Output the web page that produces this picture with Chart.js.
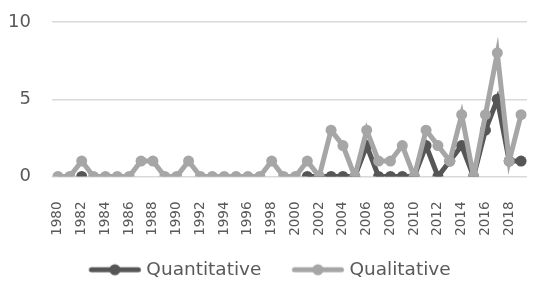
<!DOCTYPE html>
<html>
<head>
<meta charset="utf-8">
<script src="https://cdn.jsdelivr.net/npm/chart.js@4"></script>
<style>
html,body{margin:0;padding:0;background:#fff;}
#wrap{width:534px;height:283px;}
</style>
</head>
<body>
<div id="wrap"><canvas id="c" width="534" height="283"></canvas></div>
<script>
const years = [];
for (let y = 1980; y <= 2019; y++) years.push(String(y));
const quantitative = [null,null,0,null,null,null,null,null,null,null,
                      null,null,null,null,null,null,null,null,null,null,
                      null,0,0,0,0,0,2,0,0,0,
                      0,2,0,1,2,0,3,5,1,1];
const qualitative  = [0,0,1,0,0,0,0,1,1,0, 0,1,0,0,0,0,0,0,1,0, 0,1,0,3,2,0,3,1,1,2, 0,3,2,1,4,0,4,8,1,4];
const yTicks = [0,5,10];

const DARK = '#565656', LIGHT = '#a6a6a6', TXT = '#595959', FONT = "'DejaVu Sans', sans-serif";

// legend icon: visible part 53px wide, starting 20px into a 68.75px box
const BOXW = 68.75, ICON_OFF = 20, ICON_W = 53;
function legendIcon(color){
  const center = BOXW / 2;
  const half = (ICON_OFF + ICON_W) - center;
  const W = Math.ceil(half * 2);
  const cv = document.createElement('canvas');
  cv.width = W; cv.height = 14;
  const g = cv.getContext('2d');
  const x0 = W / 2 - center + ICON_OFF;
  g.strokeStyle = color; g.lineWidth = 5; g.lineCap = 'round';
  g.beginPath(); g.moveTo(x0 + 3, 7); g.lineTo(x0 + ICON_W - 3, 7); g.stroke();
  g.fillStyle = color; g.beginPath(); g.arc(x0 + ICON_W / 2, 7, 5.5, 0, Math.PI * 2); g.fill();
  return cv;
}
const icons = [legendIcon(DARK), legendIcon(LIGHT)];

const shiftLegend = {
  id: 'shiftLegend',
  afterLayout(chart){
    const l = chart.legend;
    if (l){ l.left += -8; l.right += -8; l.top += 6; l.bottom += 6; }
  }
};

new Chart(document.getElementById('c'), {
  type: 'line',
  data: {
    labels: years,
    datasets: [
      {label:'Quantitative', data: quantitative, borderColor: DARK, backgroundColor: DARK,
       borderWidth: 5, pointRadius: 5.5, pointBorderWidth: 0, pointHoverRadius: 5.5,
       order: 1, tension: 0, spanGaps: false},
      {label:'Qualitative', data: qualitative, borderColor: LIGHT, backgroundColor: LIGHT,
       borderWidth: 5, pointRadius: 5.5, pointBorderWidth: 0, pointHoverRadius: 5.5,
       order: 0, tension: 0}
    ]
  },
  plugins: [shiftLegend],
  options: {
    responsive: false,
    animation: false,
    events: [],
    layout: {padding: {left: 8, right: 7, top: 22, bottom: 0}},
    plugins: {
      tooltip: {enabled: false},
      legend: {
        position: 'bottom',
        labels: {
          usePointStyle: true,
          pointStyleWidth: BOXW,
          padding: 10,
          color: TXT,
          font: {family: FONT, size: 18.5},
          sort: (a, b) => a.datasetIndex - b.datasetIndex,
          generateLabels: (chart) => {
            const items = Chart.defaults.plugins.legend.labels.generateLabels(chart);
            items.forEach((it) => { it.pointStyle = icons[it.datasetIndex]; });
            return items;
          }
        }
      }
    },
    scales: {
      x: {
        offset: true,
        grid: {display: false},
        border: {display: false},
        afterFit: (s) => { s.paddingLeft = 0; s.paddingRight = 0; s.height = 68; },
        ticks: {
          autoSkip: false, maxRotation: 90, minRotation: 90,
          color: TXT, font: {family: FONT, size: 13.5}, padding: 17,
          callback: function(v, i){ return i % 2 === 0 ? years[i] : ''; }
        }
      },
      y: {
        min: 0, max: 10,
        afterBuildTicks: (s) => { s.ticks = yTicks.map(v => ({value: v})); },
        afterFit: (s) => { s.width = 44; s.paddingTop = 0; s.paddingBottom = 0; },
        grid: {color: '#d9d9d9', lineWidth: 1.5, drawTicks: false},
        border: {display: false},
        ticks: {color: TXT, font: {family: FONT, size: 18}, padding: 21}
      }
    }
  }
});
</script>
</body>
</html>
